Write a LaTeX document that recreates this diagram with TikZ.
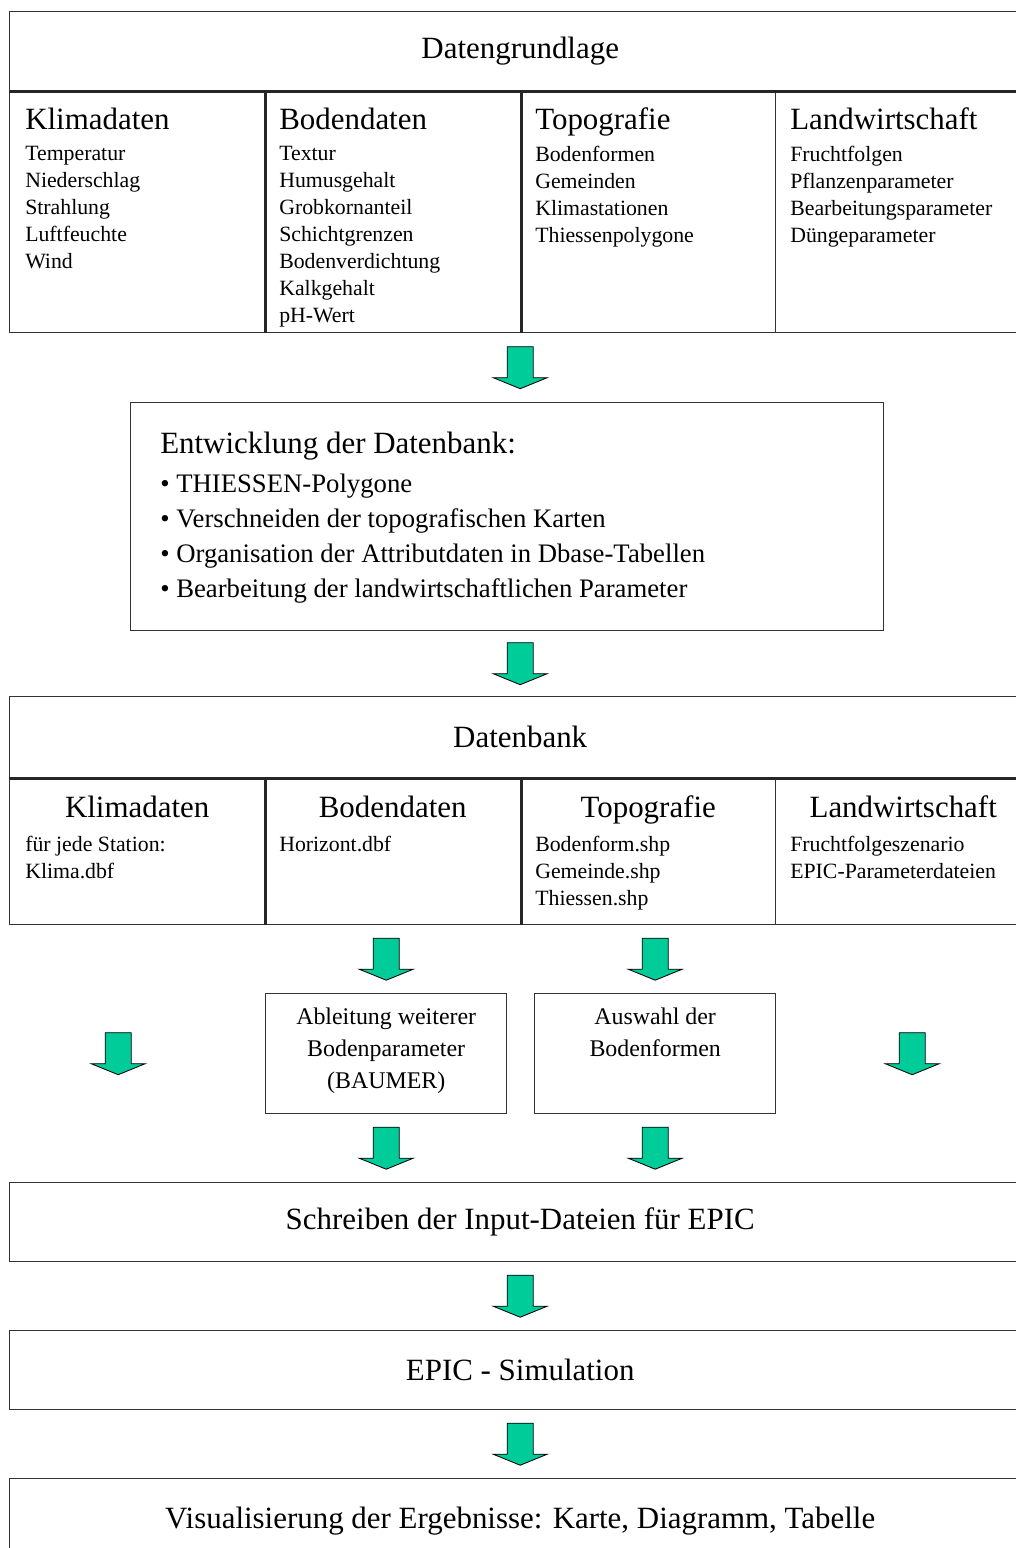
\documentclass[tikz,border=0pt]{standalone}
\usepackage{fontspec}
\setmainfont{Liberation Serif}
\usetikzlibrary{positioning,calc}
\definecolor{pfeilgruen}{HTML}{00CC99}
\newcommand\pxl{0.25mm}
\tikzset{
  kasten/.style={draw=black!80,line width=1pt,inner sep=0pt,anchor=north west},
  trenner/.style={line width=2pt,draw=black!85},
  gross/.style={font=\fontsize{22}{26}\selectfont},
  kopf/.style={gross,inner sep=0pt,anchor=base west},
  liste/.style={font=\fontsize{15.5}{19.2}\selectfont,align=left,inner sep=0pt,anchor=north west},
  punkte/.style={font=\fontsize{19}{24.9}\selectfont,align=left,inner sep=0pt,anchor=north west},
  mitte/.style={font=\fontsize{17}{22.8}\selectfont,align=center,inner sep=0pt,anchor=north},
  pics/pfeil/.style={code={
    \draw[fill=pfeilgruen,draw=black,line width=0.6pt,line join=miter]
      (-13,-21) -- (13,-21) -- (13,10) -- (27,10) -- (0,21) -- (-27,10) -- (-13,10) -- cycle;
  }}
}
\begin{document}
\begin{tikzpicture}[x=\pxl,y=-\pxl]
  \clip (0,0) rectangle (1016,1548);

  % Datengrundlage
  \node[kasten,gross,minimum width=1021*\pxl,minimum height=79*\pxl] (gkopf) at (9,11) {Datengrundlage};
  \node[kasten,minimum width=255*\pxl,minimum height=242*\pxl] (gklima) at (9,90) {};
  \node[kasten,minimum width=256*\pxl,minimum height=242*\pxl] (gboden) at (264,90) {};
  \node[kasten,minimum width=255*\pxl,minimum height=242*\pxl] (gtopo) at (520,90) {};
  \node[kasten,minimum width=255*\pxl,minimum height=242*\pxl] (glandw) at (775,90) {};
  \draw[trenner] (gkopf.south west) -- (gkopf.south east);
  \draw[trenner] (gklima.north east) -- (gklima.south east);
  \draw[trenner] (gboden.north east) -- (gboden.south east);

  \node[kopf] (gklimak) at ([shift={(16,40)}]gklima.north west) {Klimadaten};
  \node[kopf] (gbodenk) at ([shift={(15,40)}]gboden.north west) {Bodendaten};
  \node[kopf] (gtopok) at ([shift={(15,40)}]gtopo.north west) {Topografie};
  \node[kopf] (glandwk) at ([shift={(15,40)}]glandw.north west) {Landwirtschaft};
  \node[liste] (gklimal) at ([shift={(16,56)}]gklima.north west)
    {Temperatur\\Niederschlag\\Strahlung\\Luftfeuchte\\Wind};
  \node[liste] (gbodenl) at ([shift={(15,56)}]gboden.north west)
    {Textur\\Humusgehalt\\Grobkornanteil\\Schichtgrenzen\\Bodenverdichtung\\Kalkgehalt\\pH-Wert};
  \node[liste] (gtopol) at ([shift={(15,56)}]gtopo.north west)
    {Bodenformen\\Gemeinden\\Klimastationen\\Thiessenpolygone};
  \node[liste] (glandwl) at ([shift={(15,56)}]glandw.north west)
    {Fruchtfolgen\\Pflanzenparameter\\Bearbeitungsparameter\\Düngeparameter};

  % Entwicklung
  \node[kasten,minimum width=753*\pxl,minimum height=228*\pxl] (entw) at (130,402) {};
  \node[kopf] (entwk) at ([shift={(30,51)}]entw.north west) {Entwicklung der Datenbank:};
  \node[punkte] (entwl) at ([shift={(30,72)}]entw.north west)
    {• THIESSEN-Polygone\\• Verschneiden der topografischen Karten\\• Organisation der Attributdaten in Dbase-Tabellen\\• Bearbeitung der landwirtschaftlichen Parameter};

  % Datenbank
  \node[kasten,gross,minimum width=1021*\pxl,minimum height=81*\pxl] (dkopf) at (9,696) {Datenbank};
  \node[kasten,minimum width=255*\pxl,minimum height=147*\pxl] (dklima) at (9,777) {};
  \node[kasten,minimum width=256*\pxl,minimum height=147*\pxl] (dboden) at (264,777) {};
  \node[kasten,minimum width=255*\pxl,minimum height=147*\pxl] (dtopo) at (520,777) {};
  \node[kasten,minimum width=255*\pxl,minimum height=147*\pxl] (dlandw) at (775,777) {};
  \draw[trenner] (dkopf.south west) -- (dkopf.south east);
  \draw[trenner] (dklima.north east) -- (dklima.south east);
  \draw[trenner] (dboden.north east) -- (dboden.south east);

  \node[kopf,anchor=base] (dklimak) at ([shift={(0,40)}]dklima.north) {Klimadaten};
  \node[kopf,anchor=base] (dbodenk) at ([shift={(0,40)}]dboden.north) {Bodendaten};
  \node[kopf,anchor=base] (dtopok) at ([shift={(0,40)}]dtopo.north) {Topografie};
  \node[kopf,anchor=base] (dlandwk) at ([shift={(0,40)}]dlandw.north) {Landwirtschaft};
  \node[liste] (dklimal) at ([shift={(16,59)}]dklima.north west) {für jede Station:\\Klima.dbf};
  \node[liste] (dbodenl) at ([shift={(15,59)}]dboden.north west) {Horizont.dbf};
  \node[liste] (dtopol) at ([shift={(15,59)}]dtopo.north west) {Bodenform.shp\\Gemeinde.shp\\Thiessen.shp};
  \node[liste] (dlandwl) at ([shift={(15,59)}]dlandw.north west) {Fruchtfolgeszenario\\EPIC-Parameterdateien};

  % Zwischenschritte
  \node[kasten,minimum width=241*\pxl,minimum height=120*\pxl] (abl) at (265,993) {};
  \node[kasten,minimum width=241*\pxl,minimum height=120*\pxl] (aus) at (534,993) {};
  \node[mitte] (ablt) at ([shift={(0,15)}]abl.north) {Ableitung weiterer\\Bodenparameter\\(BAUMER)};
  \node[mitte] (aust) at ([shift={(0,15)}]aus.north) {Auswahl der\\Bodenformen};

  % Ausgabe
  \node[kasten,gross,minimum width=1021*\pxl,minimum height=79*\pxl] (schreib) at (9,1182) {Schreiben der Input-Dateien für EPIC};
  \node[kasten,gross,minimum width=1021*\pxl,minimum height=79*\pxl] (epic) at (9,1330) {EPIC - Simulation};
  \node[kasten,gross,minimum width=1021*\pxl,minimum height=84*\pxl] (vis) at (9,1478) {Visualisierung der Ergebnisse: Karte, Diagramm, Tabelle};

  % Pfeile
  \pic at ($(gkopf.center |- gklima.south)!.5!(gkopf.center |- entw.north)$) {pfeil};
  \pic at ($(gkopf.center |- entw.south)!.5!(gkopf.center |- dkopf.north)$) {pfeil};
  \pic at ($(abl.north |- dklima.south)!.5!(abl.north)$) {pfeil};
  \pic at ($(aus.north |- dklima.south)!.5!(aus.north)$) {pfeil};
  \pic at ($(dklima.south)!.5!(dklima.south |- schreib.north)+(-19,0)$) {pfeil};
  \pic at ($(dlandw.south)!.5!(dlandw.south |- schreib.north)+(9,0)$) {pfeil};
  \pic at ($(abl.south)!.5!(abl.south |- schreib.north)$) {pfeil};
  \pic at ($(aus.south)!.5!(aus.south |- schreib.north)$) {pfeil};
  \pic at ($(schreib.south)!.5!(epic.north)$) {pfeil};
  \pic at ($(epic.south)!.5!(vis.north)$) {pfeil};
\end{tikzpicture}
\end{document}
